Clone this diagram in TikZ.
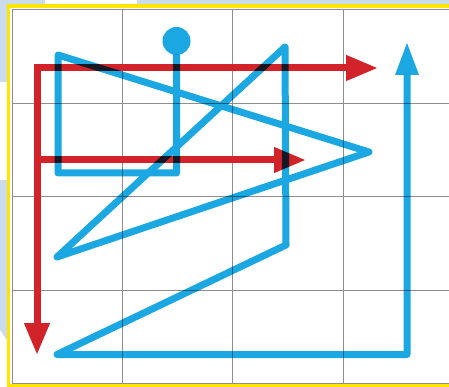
\documentclass[tikz,border=0pt]{standalone}
\usetikzlibrary{arrows.meta}
\definecolor{bgblue}{HTML}{CADCEC}
\definecolor{frameyellow}{HTML}{FFE600}
\definecolor{gridgray}{HTML}{8E8E8E}
\definecolor{pathblue}{HTML}{1BA8E2}
\definecolor{pathred}{HTML}{D2232A}
\tikzset{
  gridline/.style={draw=gridgray, line width=1pt},
  bluepath/.style={draw=pathblue, line width=7pt, line join=round},
  redpath/.style={draw=pathred, line width=7pt, line join=miter},
  bigtip/.tip={Triangle[length=32pt,width=24pt]},
  bluedot/.style={circle, fill=pathblue, minimum size=28pt, inner sep=0pt},
  bluehead/.style={fill=pathblue}
}
\begin{document}
\begin{tikzpicture}[x=1pt,y=-1pt]
\useasboundingbox (0,0) rectangle (449,387);
% background
\fill[bgblue] (0,0) rectangle (449,387);
\fill[white] (45,0) rectangle (137,6);
\fill[white] (0,82) rectangle (8,180);
\fill[white] (0,330) -- (8,342) -- (8,387) -- (0,387) -- cycle;
% frame
\fill[frameyellow] (7,4.5) rectangle (452,387);
\fill[white] (10,8) rectangle (452,384);
% grid
\foreach \gx in {12,122,232,343} \draw[gridline] (\gx,10) -- (\gx,383);
\foreach \gy in {10,104,197,290,383} \draw[gridline] (12,\gy) -- (452,\gy);
% coordinates
\coordinate (rtop) at (378,68);
\coordinate (rcorner) at (37,68);
\coordinate (rbottom) at (37,355);
\coordinate (rmidA) at (37,160);
\coordinate (rmidB) at (306,160);
\coordinate (b0) at (176.5,54.6);
\coordinate (b1) at (176.5,173);
\coordinate (b2) at (58,173);
\coordinate (b3) at (58,55);
\coordinate (b4) at (369,152);
\coordinate (b5) at (57,257);
\coordinate (b6) at (285,47);
\coordinate (b7) at (286,245);
\coordinate (b8) at (57,354.5);
\coordinate (b9) at (407,354.5);
\coordinate (b10) at (407,75);
\coordinate (tipA) at (407,43);
\coordinate (tipL) at (395,75);
\coordinate (tipR) at (419,75);
% red arrows
\draw[redpath, bigtip-bigtip] (rbottom) -- (rcorner) -- (rtop);
\draw[redpath, -bigtip] (rmidA) -- (rmidB);
% blue dot and arrow head
\node[bluedot] (dot) at (176.5,41) {};
\fill[bluehead] (tipA) -- (tipR) -- (tipL) -- cycle;
% blue path, multiplied over the red
\begin{scope}[blend mode=multiply]
\draw[bluepath] (b0) -- (b1) -- (b2) -- (b3) -- (b4) -- (b5) -- (b6) -- (b7) -- (b8) -- (b9) -- (b10);
\end{scope}
\end{tikzpicture}
\end{document}
